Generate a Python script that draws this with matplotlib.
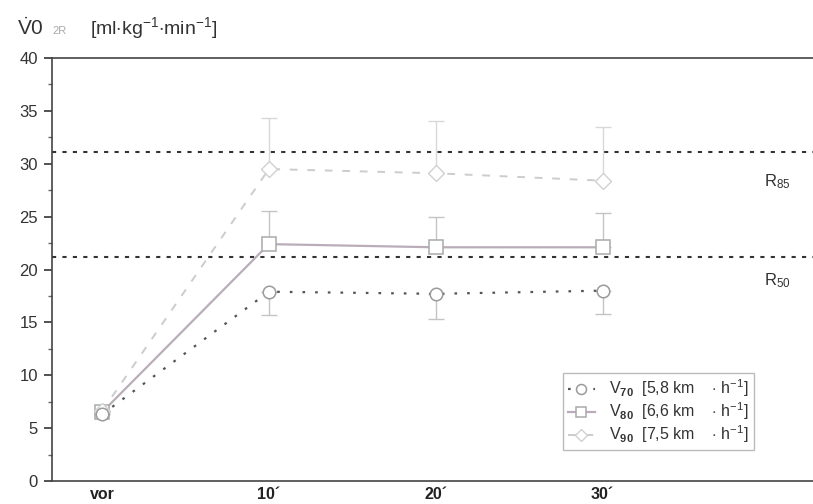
import matplotlib
matplotlib.use("Agg")
import matplotlib.pyplot as plt
from matplotlib.ticker import MultipleLocator

plt.rcParams['font.family'] = ['Liberation Sans', 'DejaVu Sans']
plt.rcParams['mathtext.fontset'] = 'custom'
plt.rcParams['mathtext.rm'] = 'Liberation Sans'
plt.rcParams['mathtext.bf'] = 'Liberation Sans:bold'
plt.rcParams['mathtext.it'] = 'Liberation Sans:italic'

categories = ["vor", "10´", "20´", "30´"]
v70 = [6.3, 17.9, 17.7, 18.0]
v70_err_low = [0, 2.2, 2.4, 2.2]
v80 = [6.5, 22.4, 22.1, 22.1]
v80_err_up = [0, 3.1, 2.9, 3.2]
v90 = [6.6, 29.5, 29.1, 28.4]
v90_err_up = [0, 4.8, 4.9, 5.1]
r85 = 31.1
r50 = 21.2
legend_labels = [r"V$_{\mathbf{70}}$  [5,8 km    $\cdot$ h$^{-1}$]",
                 r"V$_{\mathbf{80}}$  [6,6 km    $\cdot$ h$^{-1}$]",
                 r"V$_{\mathbf{90}}$  [7,5 km    $\cdot$ h$^{-1}$]"]

fig = plt.figure(figsize=(8.13, 5.04), dpi=100)
ax = fig.add_axes([52/813, 1-481/504, 1-52/813+0.01, (481-58)/504])

x = list(range(len(categories)))

ax.axhline(r85, color='#333333', lw=1.5, ls=(0, (2, 3)), zorder=1)
ax.axhline(r50, color='#333333', lw=1.5, ls=(0, (2, 3)), zorder=1)

c70, c80, c90 = '#555555', '#b9adb9', '#cccccc'
ec = '#c4c4c4'

ax.errorbar(x, v70, yerr=[v70_err_low, [0]*4], fmt='none', ecolor=ec, elinewidth=1, capsize=6, zorder=2)
ax.errorbar(x, v80, yerr=[[0]*4, v80_err_up], fmt='none', ecolor=ec, elinewidth=1, capsize=6, zorder=2)
ax.errorbar(x, v90, yerr=[[0]*4, v90_err_up], fmt='none', ecolor='#d8d8d8', elinewidth=1, capsize=6, zorder=2)

l70, = ax.plot(x, v70, color=c70, ls=(0, (1.2, 4.5)), lw=1.6, marker='o', ms=9,
               mfc='white', mec='#9a9a9a', mew=1.1, zorder=4)
l80, = ax.plot(x, v80, color=c80, ls='-', lw=1.6, marker='s', ms=9.5,
               mfc='white', mec='#aaaaaa', mew=1.1, zorder=3)
l90, = ax.plot(x, v90, color=c90, ls=(0, (4, 5)), lw=1.4, marker='D', ms=8,
               mfc='white', mec='#d0d0d0', mew=1.0, zorder=3)

ax.set_xlim(-0.30, 4.31)
ax.set_ylim(0, 40)
ax.yaxis.set_major_locator(MultipleLocator(5))
ax.yaxis.set_minor_locator(MultipleLocator(2.5))
ax.set_xticks(x)
ax.set_xticklabels(categories, fontweight='bold', fontsize=11.5)
ax.tick_params(axis='x', length=0, pad=4, colors='#222222')
ax.tick_params(axis='y', which='major', length=6, width=1.2, labelsize=12, colors='#333333', pad=4)
ax.tick_params(axis='y', which='minor', length=3, width=1.0, colors='#666666')
for s in ['top', 'left', 'bottom']:
    ax.spines[s].set_color('#444444')
    ax.spines[s].set_linewidth(1.2)
ax.spines['right'].set_visible(False)

ax.text(4.05, 28.3, r"R$_{85}$", fontsize=12, color='#333333', ha='center', va='center')
ax.text(4.05, 18.9, r"R$_{50}$", fontsize=12, color='#333333', ha='center', va='center')

leg = ax.legend([l70, l80, l90], legend_labels, loc='upper left',
                bbox_to_anchor=((563-52)/(813-52+8.1), (481-373)/423),
                fontsize=11.5, frameon=True, fancybox=False, edgecolor='#aaaaaa',
                handlelength=1.7, borderpad=0.3, labelspacing=0.08, handletextpad=0.9,
                borderaxespad=0, markerscale=0.8)
leg.get_frame().set_linewidth(1.0)
for t in leg.get_texts():
    t.set_color('#333333')

fig.text(17/813, 1-28/504, r"$\dot{\mathrm{V}}$0", fontsize=15, color='#333333', va='center')
fig.text(52/813, 1-31/504, "2R", fontsize=8, color='#aaaaaa', va='center')
fig.text(90/813, 1-28/504, r"[ml$\cdot$kg$^{-1}$$\cdot$min$^{-1}$]", fontsize=14, color='#333333', va='center')

fig.savefig("out.png", dpi=100)
